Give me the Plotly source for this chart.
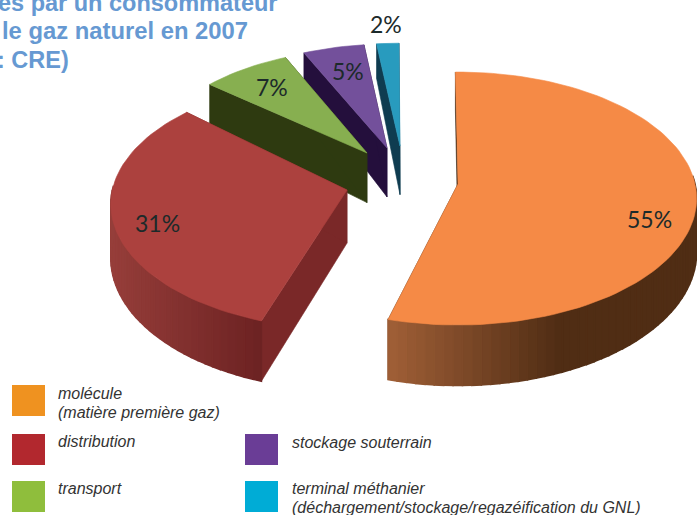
import math
import plotly.graph_objects as go

# Breakdown of the gas bill (percent)
categories = ["molécule", "distribution", "transport", "stockage souterrain", "terminal méthanier"]
shares = [55, 31, 7, 5, 2]

# Surface, cut-face and rim colours of each slice
top_colors = ["#F58A46", "#AC413E", "#87AF50", "#73509B", "#289BBE"]
cut_colors = ["#3A2410", "#7A2828", "#2E3A10", "#240F3C", "#0F3C50"]
rim_left = [(160, 95, 55), (150, 62, 58), (70, 85, 30), (50, 25, 80), (20, 80, 100)]
rim_right = [(80, 45, 20), (108, 34, 34), (45, 55, 15), (35, 15, 60), (15, 60, 80)]
rim_ramp = [0.55, 1.0, 1.0, 1.0, 1.0]
swatch_colors = ["#EF9220", "#B2282E", "#8FBE3C", "#6A3D96", "#00ACD6"]

# Exploded apex of each slice, its radial scale and the angular
# correction (degrees) that perspective gives its two straight edges
apexes = [(458, 184), (347, 190), (367, 153), (387, 148), (400, 146)]
radial_scale = [1.0, 0.99, 0.92, 0.92, 0.91]
edge_turn = [(0.8, -1.3), (2.5, 4.5), (1.5, 2.5), (2.0, 2.0), (1.8, 1.2)]

# Tilted-disc projection
RX, RY, PERSP = 237, 124.8, 0.115
START_DEG = -1.5


def project(apex, deg, r=1.0):
    t = math.radians(deg)
    u, v = r * math.sin(t), -r * math.cos(t)
    w = 1 - PERSP * v
    return apex[0] + RX * u / w, apex[1] + RY * v / w


def depth(y):
    # The extrusion shrinks towards the back of the scene
    if y > 170:
        return 52 + 0.055 * (y - 170)
    return 52 + 0.14 * (y - 170)


def mix(a, b, f):
    f = max(0.0, min(1.0, f))
    return "rgb(%d,%d,%d)" % tuple(round(a[i] + (b[i] - a[i]) * f) for i in range(3))


def poly(fig, pts, color, width=0.6):
    xs = [p[0] for p in pts] + [pts[0][0]]
    ys = [p[1] for p in pts] + [pts[0][1]]
    fig.add_trace(go.Scatter(x=xs, y=ys, mode="lines", fill="toself", fillcolor=color,
                             line=dict(color=color, width=width), hoverinfo="skip", showlegend=False))


def down(p):
    return p[0], p[1] + depth(p[1])


fig = go.Figure()

# Angular extent of each slice, clockwise from twelve o'clock
spans = []
angle = START_DEG
for s, turn in zip(shares, edge_turn):
    spans.append((angle + turn[0], angle + s * 3.6 + turn[1]))
    angle += s * 3.6

# Slices are painted back to front
for i in [4, 3, 2, 1, 0]:
    a0, a1 = spans[i]
    apex, r = apexes[i], radial_scale[i]
    steps = max(4, int((a1 - a0) / 2))
    angles = [a0 + (a1 - a0) * k / steps for k in range(steps + 1)]
    arc = [project(apex, a, r) for a in angles]

    # Flat cut faces
    for corner in (arc[0], arc[-1]):
        poly(fig, [corner, apex, down(apex), down(corner)], cut_colors[i])

    # Outer rim, shaded segment by segment from left to right; the far
    # side of the disc faces away and is skipped
    xmin = min(p[0] for p in arc)
    xmax = max(p[0] for p in arc)
    for k in range(steps):
        if math.cos(math.radians((angles[k] + angles[k + 1]) / 2)) > 0.05:
            continue
        p, q = arc[k], arc[k + 1]
        f = ((p[0] + q[0]) / 2 - xmin) / max(xmax - xmin, 1) / rim_ramp[i]
        poly(fig, [p, q, down(q), down(p)], mix(rim_left[i], rim_right[i], f), width=1.6)

    # Upper surface
    poly(fig, [apex] + arc, top_colors[i])

# Percentage labels
label_xy = [(649, 219), (157, 223), (272, 87), (348, 71), (386, 24)]
annotations = [
    dict(x=x, y=y, text=f"{v}%", showarrow=False, xanchor="center", yanchor="middle",
         font=dict(family="Lato", size=23, color="#1C2A2A"))
    for (x, y), v in zip(label_xy, shares)
]

# Heading, running off the top-left of the page
heading = [("es par un consommateur", 3, 23.5, -4), ("le gaz naturel en 2007", 30, 23.8, 0), (": CRE)", 60, 23.5, -5)]
for text, y, size, shift in heading:
    annotations.append(dict(x=0, y=y, text=f"<b>{text}</b>", showarrow=False, xanchor="left", yanchor="middle",
                            xshift=shift, font=dict(family="Liberation Sans", size=size, color="#6699D2")))

# Legend keys
swatches = [(12, 385), (12, 434), (12, 481), (245, 434), (245, 481)]
shapes = [
    dict(type="rect", x0=x, x1=x + 33, y0=y, y1=y + 31, fillcolor=c, line=dict(width=0), xref="x", yref="y")
    for (x, y), c in zip(swatches, swatch_colors)
]
legend_text = [
    (58, 393, "molécule"),
    (58, 412, "(matière première gaz)"),
    (58, 441, "distribution"),
    (58, 488, "transport"),
    (292, 442, "stockage souterrain"),
    (292, 488, "terminal méthanier"),
    (292, 507, "(déchargement/stockage/regazéification du GNL)"),
]
for x, y, text in legend_text:
    annotations.append(dict(x=x, y=y, text=f"<i>{text}</i>", showarrow=False, xanchor="left", yanchor="middle",
                            xshift=-2, font=dict(family="Liberation Sans", size=16, color="#333333")))

fig.update_layout(
    width=697, height=515, margin=dict(l=0, r=0, t=0, b=0),
    paper_bgcolor="white", plot_bgcolor="white", showlegend=False,
    xaxis=dict(range=[0, 697], visible=False, fixedrange=True),
    yaxis=dict(range=[515, 0], visible=False, fixedrange=True),
    shapes=shapes, annotations=annotations,
)
fig.write_html("out.html", config={"displayModeBar": False})
